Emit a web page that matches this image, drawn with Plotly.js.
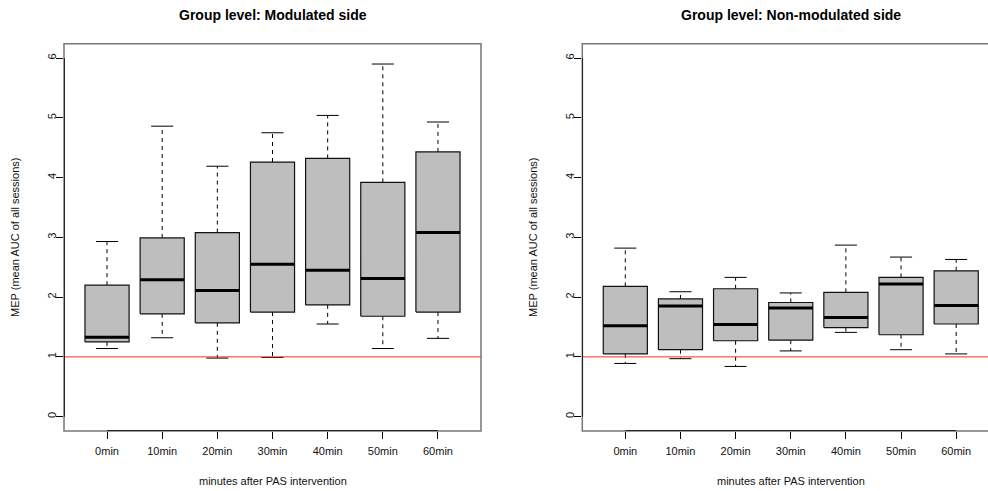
<!DOCTYPE html>
<html>
<head>
<meta charset="utf-8">
<script src="https://cdn.plot.ly/plotly-3.0.1.min.js"></script>
<style>html,body{margin:0;padding:0;background:#fff;}#chart{width:988px;height:491px;}</style>
</head>
<body>
<div id="chart"></div>
<script>
// ---- data ----
var categories = ["0min", "10min", "20min", "30min", "40min", "50min", "60min"];

var modLower  = [1.14, 1.32, 0.98, 0.99, 1.55, 1.14, 1.31];
var modQ1     = [1.25, 1.72, 1.57, 1.75, 1.87, 1.68, 1.75];
var modMedian = [1.33, 2.29, 2.11, 2.55, 2.45, 2.31, 3.08];
var modQ3     = [2.20, 2.99, 3.08, 4.26, 4.32, 3.92, 4.43];
var modUpper  = [2.93, 4.86, 4.19, 4.75, 5.04, 5.90, 4.93];

var nonLower  = [0.89, 0.97, 0.84, 1.10, 1.41, 1.12, 1.05];
var nonQ1     = [1.05, 1.12, 1.27, 1.28, 1.49, 1.37, 1.55];
var nonMedian = [1.52, 1.85, 1.54, 1.82, 1.66, 2.22, 1.86];
var nonQ3     = [2.18, 1.97, 2.14, 1.91, 2.08, 2.33, 2.44];
var nonUpper  = [2.82, 2.09, 2.33, 2.07, 2.87, 2.67, 2.63];

var refLevel = 1;
var yTicks = [0, 1, 2, 3, 4, 5, 6];
var panelTitles = ["Group level: Modulated side", "Group level: Non-modulated side"];
var xTitle = "minutes after PAS intervention";
var yTitle = "MEP (mean AUC of all sessions)";

// ---- build ----
var FONT = "Liberation Sans, Arial, Helvetica, sans-serif";
var HW = 0.4, SW = 0.2;

function panelTraces(lo, q1, med, q3, up, xa, ya) {
  var bx = [], by = [], mx = [], my = [], wx = [], wy = [], sx = [], sy = [];
  for (var i = 0; i < categories.length; i++) {
    bx.push(i - HW, i + HW, i + HW, i - HW, i - HW, null);
    by.push(q1[i], q1[i], q3[i], q3[i], q1[i], null);
    mx.push(i - HW, i + HW, null); my.push(med[i], med[i], null);
    wx.push(i, i, null, i, i, null);
    wy.push(q3[i], up[i], null, q1[i], lo[i], null);
    sx.push(i - SW, i + SW, null, i - SW, i + SW, null);
    sy.push(up[i], up[i], null, lo[i], lo[i], null);
  }
  var common = {xaxis: xa, yaxis: ya, mode: "lines", hoverinfo: "skip", showlegend: false};
  return [
    Object.assign({x: wx, y: wy, line: {color: "#000", width: 1, dash: "4px,4px"}}, common),
    Object.assign({x: sx, y: sy, line: {color: "#000", width: 1}}, common),
    Object.assign({x: bx, y: by, fill: "toself", fillcolor: "#BEBEBE", line: {color: "#111", width: 1.2}}, common),
    Object.assign({x: mx, y: my, line: {color: "#000", width: 3}}, common),
    Object.assign({x: [-1, 8], y: [refLevel, refLevel], line: {color: "#ff2a2a", width: 1}}, common)
  ];
}

var data = [].concat(
  panelTraces(modLower, modQ1, modMedian, modQ3, modUpper, "x", "y"),
  panelTraces(nonLower, nonQ1, nonMedian, nonQ3, nonUpper, "x2", "y2")
);

var tickIdx = categories.map(function (c, i) { return i; });
var yDom = [60 / 491, (491 - 43.7) / 491];
var yRange = [-0.24, 6.24];

function xAxis(domain, range, anchor) {
  return {domain: domain, range: range, anchor: anchor, tickvals: tickIdx, ticktext: categories,
    ticks: "outside", ticklen: 7, tickcolor: "#000", tickwidth: 1, showgrid: false, zeroline: false,
    showline: false, ticklabelstandoff: 3, tickfont: {family: FONT, size: 11, color: "#111"}, fixedrange: true};
}
function yAxis(anchor) {
  return {domain: yDom, range: yRange, anchor: anchor, tickvals: yTicks, ticks: "outside", ticklen: 7,
    tickcolor: "#000", tickwidth: 1, tickangle: -90, showgrid: false, zeroline: false, showline: false,
    ticklabelstandoff: -4, tickfont: {family: FONT, size: 11, color: "#111"}, fixedrange: true};
}

var x1Range = [-0.78, 6.78];
var x2Range = [-0.78, 6.577];

var shapes = [];
[["x", "y", x1Range, 1], ["x2", "y2", x2Range, 1.05]].forEach(function (p) {
  shapes.push({type: "rect", xref: p[0] + " domain", yref: p[1] + " domain", x0: 0, x1: p[3], y0: 0, y1: 1,
    line: {color: "#777", width: 1.5}, layer: "below"});
  shapes.push({type: "line", xref: p[0], yref: p[1], x0: 0, x1: categories.length - 1, y0: yRange[0], y1: yRange[0],
    line: {color: "#000", width: 1.5}});
  shapes.push({type: "line", xref: p[0], yref: p[1], x0: p[2][0], x1: p[2][0], y0: yTicks[0], y1: yTicks[yTicks.length - 1],
    line: {color: "#000", width: 1.5}});
});

var px = function (v) { return v / 988; };
var py = function (v) { return 1 - v / 491; };
var annotations = [
  {text: "<b>" + panelTitles[0] + "</b>", x: px(272.5), y: py(15), xref: "paper", yref: "paper", showarrow: false,
    font: {family: FONT, size: 14, color: "#000"}, xanchor: "center", yanchor: "middle"},
  {text: "<b>" + panelTitles[1] + "</b>", x: px(790.7), y: py(15), xref: "paper", yref: "paper", showarrow: false,
    font: {family: FONT, size: 14, color: "#000"}, xanchor: "center", yanchor: "middle"},
  {text: xTitle, x: px(272.5), y: py(480.5), xref: "paper", yref: "paper", showarrow: false,
    font: {family: FONT, size: 11, color: "#111"}, xanchor: "center", yanchor: "middle"},
  {text: xTitle, x: px(790.7), y: py(480.5), xref: "paper", yref: "paper", showarrow: false,
    font: {family: FONT, size: 11, color: "#111"}, xanchor: "center", yanchor: "middle"},
  {text: yTitle, x: px(15.5), y: py(237.4), xref: "paper", yref: "paper", showarrow: false, textangle: -90,
    font: {family: FONT, size: 11, color: "#111"}, xanchor: "center", yanchor: "middle"},
  {text: yTitle, x: px(533.5), y: py(237.4), xref: "paper", yref: "paper", showarrow: false, textangle: -90,
    font: {family: FONT, size: 11, color: "#111"}, xanchor: "center", yanchor: "middle"}
];

var layout = {
  width: 988, height: 491,
  margin: {l: 0, r: 0, t: 0, b: 0, pad: 0},
  paper_bgcolor: "#fff", plot_bgcolor: "rgba(0,0,0,0)",
  showlegend: false,
  xaxis: xAxis([64 / 988, 481 / 988], x1Range, "y"),
  yaxis: yAxis("x"),
  xaxis2: xAxis([582.3 / 988, 1], x2Range, "y2"),
  yaxis2: yAxis("x2"),
  shapes: shapes,
  annotations: annotations,
  font: {family: FONT}
};

Plotly.newPlot("chart", data, layout, {displayModeBar: false, staticPlot: true});
</script>
</body>
</html>
